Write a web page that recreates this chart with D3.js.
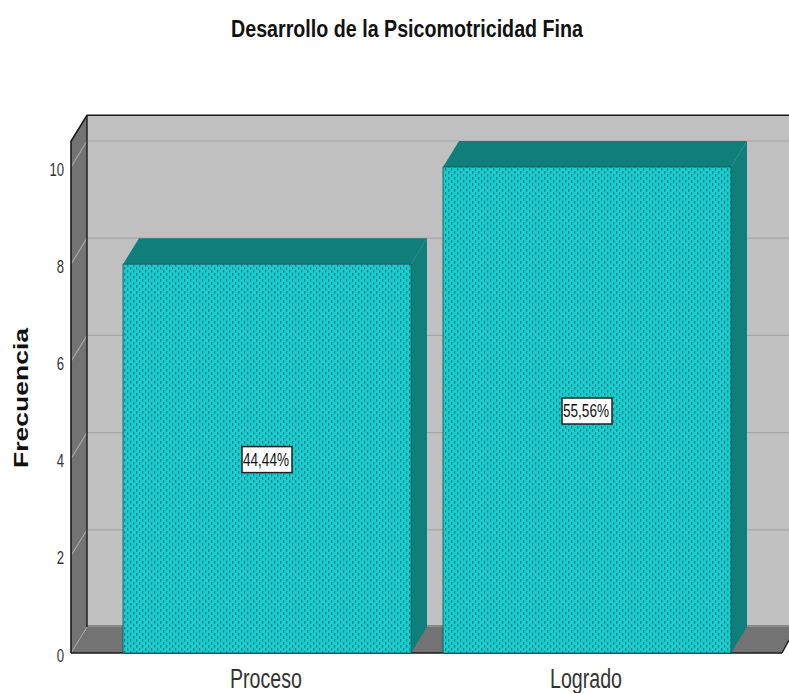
<!DOCTYPE html>
<html><head><meta charset="utf-8">
<script src="https://cdn.jsdelivr.net/npm/d3@7"></script>
<style>html,body{margin:0;padding:0;background:#fff}svg{display:block}text{font-family:"Liberation Sans",Arial,sans-serif}</style>
</head><body><div id="chart"></div>
<script>
const chartTitle = "Desarrollo de la Psicomotricidad Fina";
const yAxisTitle = "Frecuencia";
const categories = ["Proceso", "Logrado"];
const frequencies = [8, 10];
const percentLabels = ["44,44%", "55,56%"];
const yTicks = [0, 2, 4, 6, 8, 10];

const W = 789, H = 693, dx = 16, dy = -26;
const svg = d3.select("#chart").append("svg").attr("width", W).attr("height", H);
const y = d3.scaleLinear().domain([0, 10]).range([653, 167]);
const x = d3.scaleBand().domain(categories).range([107, 747]).paddingInner(0.1).paddingOuter(0.05);
const plotL = 71, plotR = 782, plotT = y(10.53), base = y(0);

const pat = svg.append("defs").append("pattern").attr("id", "dots")
  .attr("width", 6).attr("height", 6).attr("patternUnits", "userSpaceOnUse");
pat.append("rect").attr("width", 6).attr("height", 6).attr("fill", "#18cccf");
pat.append("rect").attr("x", 1).attr("y", 0).attr("width", 1.3).attr("height", 2.6).attr("fill", "#0d8480");
pat.append("rect").attr("x", 4).attr("y", 3).attr("width", 1.3).attr("height", 2.6).attr("fill", "#0d8480");

const poly = pts => pts.map(p => p.join(",")).join(" ");
// back wall
svg.append("polygon").attr("points", poly([[plotL + dx, plotT + dy], [W, plotT + dy], [W, base + dy], [plotL + dx, base + dy]])).attr("fill", "#c0c0c0");
// side wall
svg.append("polygon").attr("points", poly([[plotL, plotT], [plotL + dx, plotT + dy], [plotL + dx, base + dy], [plotL, base]])).attr("fill", "#737373");
// floor
svg.append("polygon").attr("points", poly([[plotL, base], [plotL + dx, base + dy], [W, base + dy], [W, base - 13], [plotR, base]])).attr("fill", "#737373");
// gridlines
yTicks.filter(d => d > 0).forEach(d => {
  svg.append("polyline").attr("points", poly([[plotL, y(d)], [plotL + dx, y(d) + dy], [W, y(d) + dy]]))
    .attr("fill", "none").attr("stroke", "#a6a6a6").attr("stroke-width", 1.2);
});
svg.append("line").attr("x1", plotL).attr("y1", base).attr("x2", plotL + dx).attr("y2", base + dy).attr("stroke", "#a6a6a6");
svg.append("line").attr("x1", plotL + dx).attr("y1", base + dy - 1).attr("x2", W).attr("y2", base + dy - 1).attr("stroke", "#8a8a8a").attr("stroke-width", 2);
// frame
const frame = "#1a1a1a";
svg.append("polyline").attr("points", poly([[plotL, base], [plotL, plotT], [plotL + dx, plotT + dy], [W, plotT + dy]])).attr("fill", "none").attr("stroke", frame).attr("stroke-width", 1.6);
svg.append("line").attr("x1", plotL + dx).attr("y1", plotT + dy).attr("x2", plotL + dx).attr("y2", base + dy).attr("stroke", frame).attr("stroke-width", 1.4);
svg.append("line").attr("x1", plotL).attr("y1", base).attr("x2", plotR).attr("y2", base).attr("stroke", frame).attr("stroke-width", 1.6);
svg.append("line").attr("x1", plotR).attr("y1", base).attr("x2", W).attr("y2", base - 13).attr("stroke", frame).attr("stroke-width", 1.4);

// bars
const bars = svg.selectAll("g.bar").data(categories.map((c, i) => ({c, v: frequencies[i], p: percentLabels[i]}))).join("g").attr("class", "bar");
bars.append("polygon").attr("points", d => {
  const x0 = x(d.c), x1 = x0 + x.bandwidth(), yt = y(d.v);
  return poly([[x0, yt], [x0 + dx, yt + dy], [x1 + dx, yt + dy], [x1, yt]]);
}).attr("fill", "#107e7a");
bars.append("polygon").attr("points", d => {
  const x1 = x(d.c) + x.bandwidth(), yt = y(d.v);
  return poly([[x1, yt], [x1 + dx, yt + dy], [x1 + dx, base + dy], [x1, base]]);
}).attr("fill", "#107e7a");
bars.append("rect").attr("x", d => x(d.c)).attr("y", d => y(d.v))
  .attr("width", x.bandwidth()).attr("height", d => base - y(d.v))
  .attr("fill", "url(#dots)").attr("stroke", "#0b5a57").attr("stroke-width", 0.8);
// value labels
bars.append("rect").attr("x", d => x(d.c) + x.bandwidth() / 2 - 25).attr("y", d => y(d.v / 2) - 12)
  .attr("width", 50).attr("height", 26).attr("fill", "#fff").attr("stroke", "#222").attr("stroke-width", 1.5);
bars.append("text").attr("x", d => x(d.c) + x.bandwidth() / 2 - 1).attr("y", d => y(d.v / 2) + 7)
  .attr("text-anchor", "middle").attr("font-size", 18).attr("fill", "#111")
  .attr("textLength", 46).attr("lengthAdjust", "spacingAndGlyphs").text(d => d.p);

// y axis labels
const yAxis = d3.axisLeft(y).tickValues(yTicks).tickSize(0).tickPadding(7);
const gy = svg.append("g").attr("transform", `translate(${plotL},0)`).call(yAxis);
gy.select(".domain").remove();
gy.selectAll("text").attr("font-size", 19).attr("fill", "#333").attr("dy", 8)
  .attr("textLength", d => String(d).length * 7.3).attr("lengthAdjust", "spacingAndGlyphs");

// x axis labels
svg.selectAll("text.cat").data(categories).join("text").attr("class", "cat")
  .attr("x", d => x(d) + x.bandwidth() / 2 - 1).attr("y", 688).attr("text-anchor", "middle")
  .attr("font-size", 27).attr("fill", "#333")
  .attr("textLength", 72).attr("lengthAdjust", "spacingAndGlyphs").text(d => d);

svg.append("text").attr("x", 407).attr("y", 37).attr("text-anchor", "middle")
  .attr("font-size", 24).attr("font-weight", "bold").attr("fill", "#111")
  .attr("textLength", 352).attr("lengthAdjust", "spacingAndGlyphs").text(chartTitle);
svg.append("text").attr("transform", "translate(28,398) rotate(-90)").attr("text-anchor", "middle")
  .attr("font-size", 21).attr("font-weight", "bold").attr("fill", "#111")
  .attr("textLength", 140).attr("lengthAdjust", "spacingAndGlyphs").text(yAxisTitle);
</script></body></html>
